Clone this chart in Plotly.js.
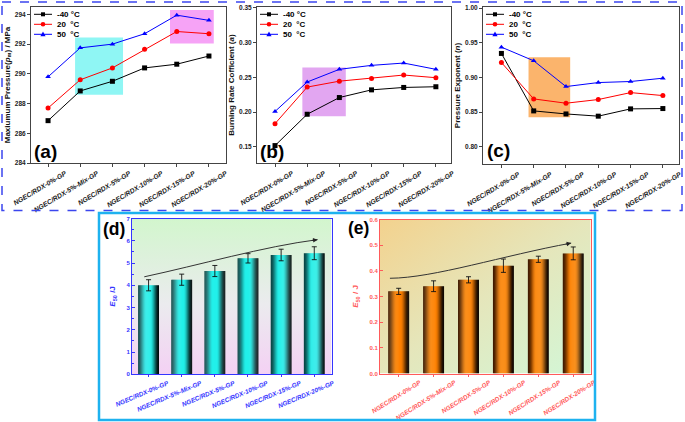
<!DOCTYPE html>
<html><head><meta charset="utf-8">
<script src="https://cdn.plot.ly/plotly-3.0.1.min.js"></script>
<style>html,body{margin:0;padding:0;background:#fff}#c{width:685px;height:422px}</style>
</head><body><div id="c"></div>
<script>
// ---------------- DATA ----------------
const categories = ['NGEC/RDX-0%-GP','NGEC/RDX-5%-Mix-GP','NGEC/RDX-5%-GP','NGEC/RDX-10%-GP','NGEC/RDX-15%-GP','NGEC/RDX-20%-GP'];
const seriesNames = ['-40 °C','20\u00a0 °C','50\u00a0 °C'];
// (a) Maximum pressure / MPa
const pm_m40 = [286.85, 288.85, 289.5, 290.4, 290.65, 291.2];
const pm_20  = [287.7, 289.6, 290.4, 291.65, 292.85, 292.7];
const pm_50  = [289.8, 291.75, 292.0, 292.7, 293.95, 293.6];
// (b) Burning rate coefficient a
const a_m40 = [0.152, 0.197, 0.221, 0.232, 0.2355, 0.2365];
const a_20  = [0.1835, 0.236, 0.2445, 0.2485, 0.2533, 0.2495];
const a_50  = [0.201, 0.2433, 0.2615, 0.2672, 0.2705, 0.2615];
// (c) Pressure exponent n
const n_m40 = [0.9345, 0.8516, 0.8472, 0.8440, 0.8545, 0.855];
const n_20  = [0.9214, 0.8689, 0.8627, 0.868, 0.878, 0.8737];
const n_50  = [0.9436, 0.9239, 0.8867, 0.8925, 0.894, 0.8988];
// (d) Impact E50 / J
const e50Impact    = [4.0, 4.25, 4.64, 5.21, 5.36, 5.44];
const e50ImpactErr = [0.25, 0.25, 0.25, 0.21, 0.26, 0.29];
// (e) Friction E50 / J
const e50Friction    = [0.32, 0.34, 0.365, 0.42, 0.445, 0.468];
const e50FrictionErr = [0.012, 0.021, 0.012, 0.026, 0.012, 0.025];

// ---------------- HELPERS ----------------
const W = 685, H = 422;
const X = p => p / W, Y = p => 1 - p / H;
const idx = categories.map((_, i) => i);
const FONT = 'Liberation Sans, Arial, sans-serif';

const lineColors = ['#000000', '#ff0000', '#0000ff'];
const symbols = ['square', 'circle', 'triangle-up'];

const traces = [];
function lineSet(vals, xa, ya) {
  vals.forEach((v, k) => traces.push({
    type: 'scatter', mode: 'lines+markers', x: idx, y: v, xaxis: xa, yaxis: ya,
    line: {color: lineColors[k], width: 1},
    marker: {symbol: symbols[k], size: 5, color: lineColors[k]},
    showlegend: false, hoverinfo: 'skip'
  }));
}
lineSet([pm_m40, pm_20, pm_50], 'x', 'y');
lineSet([a_m40, a_20, a_50], 'x2', 'y2');
lineSet([n_m40, n_20, n_50], 'x3', 'y3');

function hex(c){return [parseInt(c.slice(1,3),16),parseInt(c.slice(3,5),16),parseInt(c.slice(5,7),16)];}
function mix(a,b,t){const A=hex(a),B=hex(b);return 'rgb('+A.map((v,i)=>Math.round(v+(B[i]-v)*t)).join(',')+')';}
function sm(t){t=Math.max(0,Math.min(1,t));return t*t*(3-2*t);}
function shadedBars(vals, err, xa, ya, w, edgeL, edgeR, bright) {
  const N = 20;
  for (let i = 0; i < N; i++) {
    const t = (i + 0.5) / N;
    let col;
    if (t < 0.4) col = mix(edgeL, bright, sm(t / 0.4));
    else if (t < 0.58) col = bright;
    else col = mix(bright, edgeR, sm((t - 0.58) / 0.42));
    const off = -w / 2 + i * w / N;
    const wid = i === N - 1 ? w / N : w / N * 1.25;
    traces.push({type: 'bar', x: idx, y: vals, xaxis: xa, yaxis: ya, width: wid, offset: off,
      marker: {color: col, line: {width: 0}}, showlegend: false, hoverinfo: 'skip'});
  }
  traces.push({type: 'scatter', mode: 'markers', x: idx, y: vals, xaxis: xa, yaxis: ya,
    marker: {size: 1, color: 'rgba(0,0,0,0)'},
    error_y: {type: 'data', array: err, color: '#111', thickness: 0.9, width: 2.5},
    showlegend: false, hoverinfo: 'skip'});
}
shadedBars(e50Impact, e50ImpactErr, 'x4', 'y4', 0.63, '#0a4444', '#000a0a', '#22f0ea');
shadedBars(e50Friction, e50FrictionErr, 'x5', 'y5', 0.6, '#401a00', '#0a0400', '#ff8000');

// ---------------- AXES ----------------
const tickFontTop = {family: FONT, size: 6.8, color: '#1a1a1a', weight: 'bold', style: 'italic'};
function xTop(dom, rng) {
  return {domain: [X(dom[0]), X(dom[1])], range: rng, tickvals: idx, ticktext: categories,
    tickangle: -31, ticklabelshift: 17, tickfont: tickFontTop, ticks: 'outside', ticklen: 3, tickcolor: '#444',
    showline: true, linecolor: '#444', linewidth: 1, mirror: true, showgrid: false, zeroline: false,
    automargin: false, fixedrange: true};
}
function yTop(dom, rng, dtick, fmt, title, anchor) {
  return {domain: [Y(dom[1]), Y(dom[0])], range: rng, dtick: dtick, tick0: 0, tickformat: fmt,
    tickfont: {family: FONT, size: 6.5, color: '#222', weight: 'bold'},
    ticks: 'outside', ticklen: 3, tickcolor: '#444', showline: true, linecolor: '#444', linewidth: 1,
    mirror: true, showgrid: false, zeroline: false, automargin: false, anchor: anchor,
    title: {text: title, font: {family: FONT, size: 8, color: '#111', weight: 'bold'}, standoff: 3},
    fixedrange: true};
}
function xBot(dom, rng, color, ang, shift) {
  return {domain: [X(dom[0]), X(dom[1])], range: rng, tickvals: idx, ticktext: categories,
    tickangle: ang, ticklabelshift: shift, tickfont: {family: FONT, size: 6.4, color: color, weight: 'bold', style: 'italic'},
    ticks: 'outside', ticklen: 2, tickcolor: color, showline: true, linecolor: color, linewidth: 1,
    mirror: true, showgrid: false, zeroline: false, automargin: false, fixedrange: true};
}
function yBot(dom, rng, dtick, fmt, title, color, anchor, minor) {
  const o = {domain: [Y(dom[1]), Y(dom[0])], range: rng, dtick: dtick, tick0: 0, tickformat: fmt,
    tickfont: {family: FONT, size: 6, color: color, weight: 'bold'},
    ticks: 'inside', ticklen: 3, tickcolor: color, showline: true, linecolor: color, linewidth: 1,
    mirror: true, showgrid: false, zeroline: false, automargin: false, anchor: anchor,
    title: {text: title, font: {family: FONT, size: 8, color: color, weight: 'bold'}, standoff: 9},
    fixedrange: true};
  if (minor) o.minor = {dtick: dtick / 2, ticks: 'inside', ticklen: 1.5, tickcolor: color};
  return o;
}

const dA = {x: [31, 226], y: [7, 163]};
const dB = {x: [257, 451], y: [7, 163]};
const dC = {x: [483, 679], y: [7, 164]};
const dD = {x: [132, 331.5], y: [218.5, 374.3]};
const dE = {x: [380, 590.7], y: [219.5, 373.5]};

const layout = {
  width: W, height: H, margin: {l: 0, r: 0, t: 0, b: 0},
  paper_bgcolor: '#ffffff', plot_bgcolor: 'rgba(0,0,0,0)', showlegend: false,
  barmode: 'overlay',
  xaxis: xTop(dA.x, [-0.53, 5.53]),
  yaxis: yTop(dA.y, [284, 294.5], 2, 'd', 'Maxiumum Pressure(<i>p</i><sub>m</sub>) / MPa', 'x'),
  xaxis2: Object.assign(xTop(dB.x, [-0.56, 5.47]), {anchor: 'y2'}),
  yaxis2: yTop(dB.y, [0.127, 0.351], 0.05, '.2f', 'Burning Rate Cofficient (<i>a</i>)', 'x2'),
  xaxis3: Object.assign(xTop(dC.x, [-0.57, 5.5]), {anchor: 'y3'}),
  yaxis3: yTop(dC.y, [0.775, 1.0015], 0.05, '.2f', 'Pressure Exponent (<i>n</i>)', 'x3'),
  xaxis4: Object.assign(xBot(dD.x, [-0.5, 5.52], '#3535ff', -23, 19), {anchor: 'y4'}),
  yaxis4: yBot(dD.y, [0, 7], 1, 'd', '<i>E</i><sub>50</sub> /J', '#3535ff', 'x4', true),
  xaxis5: Object.assign(xBot(dE.x, [-0.535, 5.5], '#ff5a5a', -32, 21), {anchor: 'y5'}),
  yaxis5: yBot(dE.y, [0, 0.6], 0.1, '.1f', '<i>E</i><sub>50</sub> / J', '#ff5a5a', 'x5', false),
  shapes: [], annotations: [], images: []
};

// background gradients for (d) and (e)
function svgURI(svg){return 'data:image/svg+xml;charset=utf-8,' + encodeURIComponent(svg);}
const gD = "<svg xmlns='http://www.w3.org/2000/svg' width='100' height='100' preserveAspectRatio='none'><defs><linearGradient id='g' x1='0' y1='0' x2='0' y2='1'><stop offset='0' stop-color='#d2f6cd'/><stop offset='0.55' stop-color='#ebebee'/><stop offset='1' stop-color='#f4d1f4'/></linearGradient></defs><rect width='100' height='100' fill='url(#g)'/></svg>";
const gE = "<svg xmlns='http://www.w3.org/2000/svg' width='100' height='100' preserveAspectRatio='none'><defs><linearGradient id='g' x1='0' y1='0' x2='1' y2='1'><stop offset='0' stop-color='#f3d28e'/><stop offset='0.5' stop-color='#e5e6bb'/><stop offset='1' stop-color='#d2f7d8'/></linearGradient></defs><rect width='100' height='100' fill='url(#g)'/></svg>";
[[dD, gD], [dE, gE]].forEach(([d, g]) => layout.images.push({
  source: svgURI(g), xref: 'paper', yref: 'paper', x: X(d.x[0]), y: Y(d.y[0]),
  sizex: X(d.x[1]) - X(d.x[0]), sizey: Y(d.y[0]) - Y(d.y[1]), xanchor: 'left', yanchor: 'top',
  sizing: 'stretch', layer: 'below'
}));

// highlight rectangles
const rects = [
  ['x', 'y', 0.84, 2.33, 288.6, 292.45, '#8ff6f4'],
  ['x', 'y', 3.79, 5.15, 292.05, 294.3, '#f6a3f6'],
  ['x2', 'y2', 0.85, 2.2, 0.194, 0.264, '#e2a6f1'],
  ['x3', 'y3', 0.84, 2.13, 0.8424, 0.929, '#fbb46c']
];
rects.forEach(r => layout.shapes.push({type: 'rect', xref: r[0], yref: r[1], x0: r[2], x1: r[3], y0: r[4], y1: r[5],
  fillcolor: r[6], line: {width: 0}, layer: 'below'}));

// frames around panels
layout.shapes.push({type: 'rect', xref: 'paper', yref: 'paper', x0: X(2), x1: X(682), y0: Y(2), y1: Y(210.5),
  line: {color: '#3b46ee', width: 1.5, dash: 'dash'}, fillcolor: 'rgba(0,0,0,0)'});
layout.shapes.push({type: 'rect', xref: 'paper', yref: 'paper', x0: X(99), x1: X(595), y0: Y(213), y1: Y(420),
  line: {color: '#1eb2ef', width: 2.5}, fillcolor: 'rgba(0,0,0,0)'});

// trend arrows
layout.shapes.push({type: 'path', xref: 'x4', yref: 'y4', path: 'M -0.13,4.38 C 1.5,4.9 3.5,5.75 5.1,6.05',
  line: {color: '#333', width: 1}});
layout.shapes.push({type: 'path', xref: 'x5', yref: 'y5', path: 'M -0.25,0.371 C 1.0,0.372 3.0,0.46 4.94,0.508',
  line: {color: '#333', width: 1}});
layout.annotations.push({xref: 'x4', yref: 'y4', x: 5.1, y: 6.05, ax: -7, ay: 0.9, text: '', showarrow: true,
  arrowhead: 2, arrowsize: 0.9, arrowwidth: 1, arrowcolor: '#222'});
layout.annotations.push({xref: 'x5', yref: 'y5', x: 4.94, y: 0.508, ax: -7, ay: 1.3, text: '', showarrow: true,
  arrowhead: 2, arrowsize: 0.9, arrowwidth: 1, arrowcolor: '#222'});

// custom legends
[dA, dB, dC].forEach(d => {
  const L = d.x[0];
  [14.3, 24.3, 34.3].forEach((ry, k) => {
    const c = lineColors[k];
    layout.shapes.push({type: 'line', xref: 'paper', yref: 'paper', x0: X(L + 3), x1: X(L + 21), y0: Y(ry), y1: Y(ry),
      line: {color: c, width: 1}});
    const cx = L + 12;
    if (k === 0) layout.shapes.push({type: 'rect', xref: 'paper', yref: 'paper', x0: X(cx - 2), x1: X(cx + 2),
      y0: Y(ry - 2), y1: Y(ry + 2), fillcolor: c, line: {width: 0}});
    else if (k === 1) layout.shapes.push({type: 'circle', xref: 'paper', yref: 'paper', x0: X(cx - 2.3), x1: X(cx + 2.3),
      y0: Y(ry - 2.3), y1: Y(ry + 2.3), fillcolor: c, line: {width: 0}});
    else layout.shapes.push({type: 'path', xref: 'paper', yref: 'paper', fillcolor: c, line: {width: 0},
      path: `M ${X(cx)},${Y(ry - 2.7)} L ${X(cx + 2.6)},${Y(ry + 2)} L ${X(cx - 2.6)},${Y(ry + 2)} Z`});
    layout.annotations.push({xref: 'paper', yref: 'paper', x: X(L + 23.5), y: Y(ry), xanchor: 'left', yanchor: 'middle',
      text: seriesNames[k], showarrow: false, font: {family: FONT, size: 8, color: '#000', weight: 'bold'}});
  });
});

// panel letters
[['(a)', 31.5, 151, 19], ['(b)', 257.5, 151, 19], ['(c)', 485, 150.5, 19], ['(d)', 100.5, 229, 17.5], ['(e)', 346.5, 228, 17.5]].forEach(p =>
  layout.annotations.push({xref: 'paper', yref: 'paper', x: X(p[1]), y: Y(p[2]), xanchor: 'left', yanchor: 'middle',
    text: p[0], showarrow: false, font: {family: FONT, size: p[3], color: '#000', weight: 'bold'}}));

Plotly.newPlot('c', traces, layout, {staticPlot: true, displayModeBar: false});
</script></body></html>
